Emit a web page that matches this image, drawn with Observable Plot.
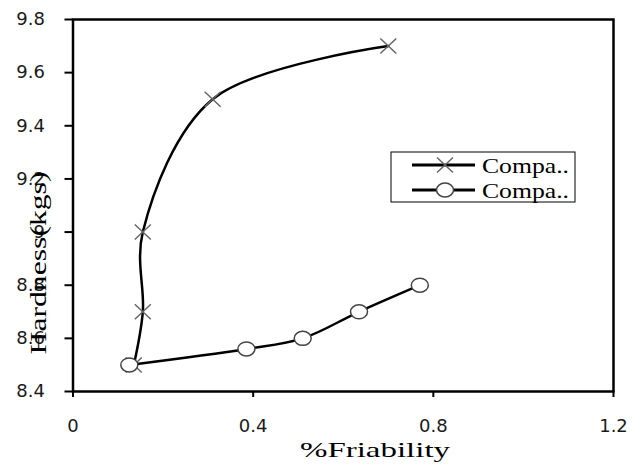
<!DOCTYPE html>
<html><head><meta charset="utf-8">
<script src="https://cdn.jsdelivr.net/npm/d3@7"></script>
<script src="https://cdn.jsdelivr.net/npm/@observablehq/plot@0.6"></script>
<style>body{margin:0;background:#fff}</style>
</head><body><div id="chart"></div>
<script>
const seriesNames = ["Compa..", "Compa.."];
const friabilityA = [0.135, 0.155, 0.155, 0.31, 0.70];
const hardnessA = [8.5, 8.7, 9.0, 9.5, 9.7];
const friabilityB = [0.125, 0.385, 0.51, 0.635, 0.77];
const hardnessB = [8.5, 8.56, 8.6, 8.7, 8.8];
const xTicks = [0, 0.4, 0.8, 1.2];
const yTicks = [8.4, 8.6, 8.8, 9, 9.2, 9.4, 9.6, 9.8];
const xLabel = "%Friability";
const yLabel = "Hardness(kgs)";

const A = friabilityA.map((x, i) => ({x, y: hardnessA[i]}));
const B = friabilityB.map((x, i) => ({x, y: hardnessB[i]}));

function ellipse(rx, ry) {
  return {draw(c) {
    const k = 0.5523;
    c.moveTo(rx, 0);
    c.bezierCurveTo(rx, k * ry, k * rx, ry, 0, ry);
    c.bezierCurveTo(-k * rx, ry, -rx, k * ry, -rx, 0);
    c.bezierCurveTo(-rx, -k * ry, -k * rx, -ry, 0, -ry);
    c.bezierCurveTo(k * rx, -ry, rx, -k * ry, rx, 0);
    c.closePath();
  }};
}
const cross = {draw(c) {
  const a = 8, b = 7.5;
  c.moveTo(-a, -b); c.lineTo(a, b);
  c.moveTo(-a, b); c.lineTo(a, -b);
}};
const oval = ellipse(8.5, 7);

const serif = "'Liberation Serif', 'Times New Roman', serif";

const plot = Plot.plot({
  width: 634, height: 467,
  marginLeft: 72.5, marginRight: 21, marginTop: 19, marginBottom: 76,
  style: {fontFamily: "'DejaVu Sans', sans-serif", fontSize: "18px", background: "white", color: "#1a1a1a"},
  x: {domain: [0, 1.2]},
  y: {domain: [8.4, 9.8]},
  marks: [
    Plot.axisX({ticks: xTicks, tickFormat: d => String(d), tickSize: 6, tickPadding: 22, label: null, strokeWidth: 2, stroke: "black", fontSize: 18}),
    Plot.axisY({ticks: yTicks, tickFormat: d => String(d), tickSize: 8, tickPadding: 20, label: null, strokeWidth: 2, stroke: "black", fontSize: 18}),
    Plot.frame({stroke: "black", strokeWidth: 2.5}),
    Plot.line(A, {x: "x", y: "y", curve: "catmull-rom", stroke: "black", strokeWidth: 2.5}),
    Plot.dot(A, {x: "x", y: "y", symbol: cross, stroke: "#666", strokeWidth: 1.5, fill: "none"}),
    Plot.line(B, {x: "x", y: "y", curve: "catmull-rom", stroke: "black", strokeWidth: 2.5}),
    Plot.dot(B, {x: "x", y: "y", symbol: oval, stroke: "#444", strokeWidth: 1.5, fill: "white"})
  ]
});

const svg = d3.select(plot);

// axis titles
svg.append("text")
  .attr("x", 300).attr("y", 457)
  .attr("text-anchor", "start")
  .attr("textLength", 150).attr("lengthAdjust", "spacingAndGlyphs")
  .style("font-family", serif).style("font-size", "22px").attr("fill", "black")
  .text(xLabel);
svg.append("text")
  .attr("transform", "translate(46,263) rotate(-90)")
  .attr("text-anchor", "middle")
  .attr("textLength", 183).attr("lengthAdjust", "spacingAndGlyphs")
  .style("font-family", serif).style("font-size", "24px").attr("fill", "black")
  .text(yLabel);

// legend
const lg = svg.append("g");
lg.append("rect").attr("x", 391).attr("y", 152).attr("width", 184).attr("height", 50)
  .attr("fill", "white").attr("stroke", "black").attr("stroke-width", 1);
const symbols = [cross, oval];
const symStroke = ["#666", "#444"];
const symFill = ["none", "white"];
seriesNames.forEach((name, i) => {
  const yy = 165 + i * 25;
  lg.append("line").attr("x1", 412).attr("x2", 475).attr("y1", yy).attr("y2", yy)
    .attr("stroke", "black").attr("stroke-width", 3);
  lg.append("path").attr("d", d3.symbol().type(symbols[i])())
    .attr("transform", `translate(445,${yy})`)
    .attr("stroke", symStroke[i]).attr("stroke-width", 1.5).attr("fill", symFill[i]);
  lg.append("text").attr("x", 482).attr("y", yy + 8)
    .attr("text-anchor", "start")
    .attr("textLength", 87).attr("lengthAdjust", "spacingAndGlyphs")
    .style("font-family", serif).style("font-size", "22px").attr("fill", "black")
    .text(name);
});

document.getElementById("chart").appendChild(plot);
</script>
</body></html>
